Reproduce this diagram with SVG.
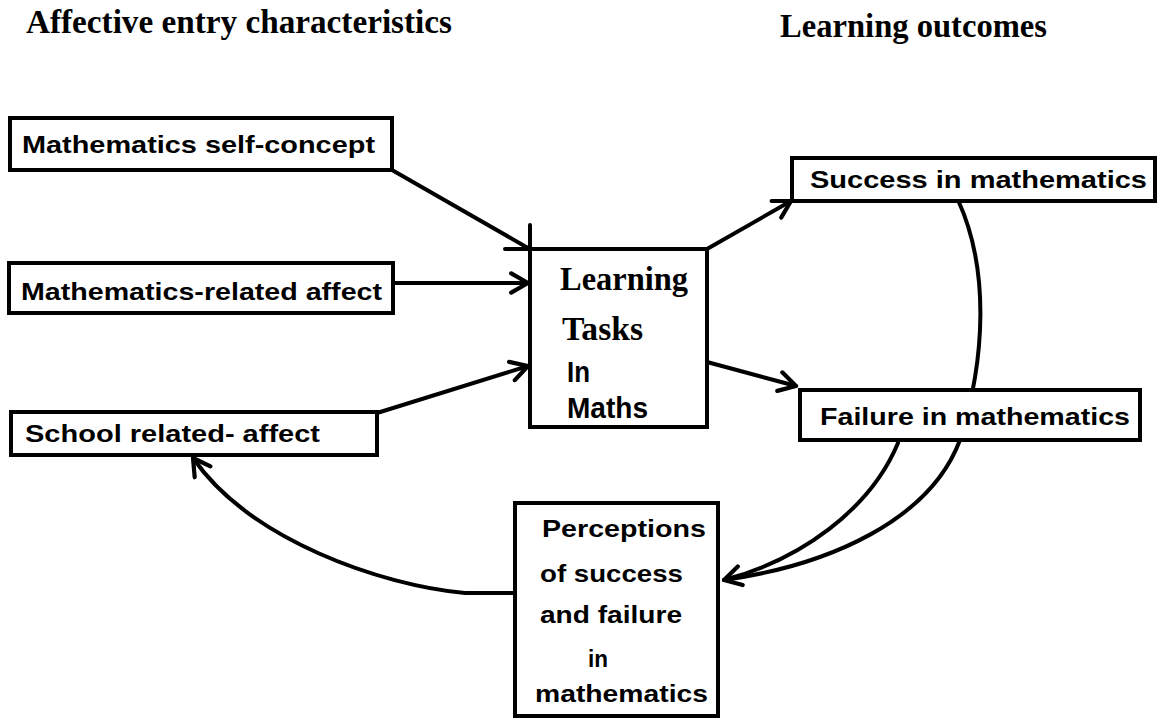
<svg xmlns="http://www.w3.org/2000/svg" width="1161" height="723" viewBox="0 0 1161 723">
<style>
.box{fill:#fff;stroke:#000;stroke-width:4}
.lbl{font-family:"Liberation Sans",Arial,sans-serif;font-weight:bold;font-size:24px;fill:#000}
.big{font-family:"Liberation Sans",Arial,sans-serif;font-weight:bold;font-size:30px;fill:#000}
.ser{font-family:"Liberation Serif","Times New Roman",serif;font-weight:bold;font-size:33px;fill:#000}
.con{fill:none;stroke:#000;stroke-width:4;stroke-linecap:round;stroke-linejoin:round}
</style>
<defs>
<marker id="ah" markerUnits="userSpaceOnUse" markerWidth="24" markerHeight="24" refX="14" refY="8" orient="auto" viewBox="-2 -2 20 20">
<path d="M0,0 L14,8 L0,16" fill="none" stroke="#000" stroke-width="3.5" stroke-linecap="round" stroke-linejoin="round"/>
</marker>
</defs>
<rect width="1161" height="723" fill="#fff"/>
<g id="titles">
<text class="ser" x="26" y="33" textLength="426" lengthAdjust="spacingAndGlyphs">Affective entry characteristics</text>
<text class="ser" x="780" y="37" textLength="267" lengthAdjust="spacingAndGlyphs">Learning outcomes</text>
</g>
<g id="connectors">
<path class="con" d="M392,170 L528,248"/>
<path class="con" d="M505,249 L530,249 L530,225"/>
<path class="con" d="M393,283 L528,283" marker-end="url(#ah)"/>
<path class="con" d="M377,413 L528,366" marker-end="url(#ah)"/>
<path class="con" d="M707,249 L791,201" marker-end="url(#ah)"/>
<path class="con" d="M707,362 L796,386" marker-end="url(#ah)"/>
<path class="con" d="M958,200 C990,270 985,360 960,440 C930,520 830,565 724,580"/>
<path class="con" d="M898,443 C870,510 800,560 724,580" marker-end="url(#ah)"/>
<path class="con" d="M513,593 L465,593 C380,585 250,540 193,458" marker-end="url(#ah)"/>
</g>
<g id="node-msc">
<rect class="box" x="10" y="118" width="382" height="52"/>
<text class="lbl" x="22" y="153" textLength="353" lengthAdjust="spacingAndGlyphs">Mathematics  self-concept</text>
</g>
<g id="node-mra">
<rect class="box" x="9" y="263" width="384" height="50"/>
<text class="lbl" x="21" y="300" textLength="361" lengthAdjust="spacingAndGlyphs">Mathematics-related affect</text>
</g>
<g id="node-sra">
<rect class="box" x="11" y="412" width="366" height="43"/>
<text class="lbl" x="25" y="442" textLength="295" lengthAdjust="spacingAndGlyphs">School  related- affect</text>
</g>
<g id="node-learning">
<rect class="box" x="530" y="249" width="177" height="178"/>
<text class="ser" x="560" y="290" textLength="128" lengthAdjust="spacingAndGlyphs">Learning</text>
<text class="ser" x="562" y="340" textLength="81" lengthAdjust="spacingAndGlyphs">Tasks</text>
<text class="big" x="567" y="382" textLength="23" lengthAdjust="spacingAndGlyphs">In</text>
<text class="big" x="567" y="418" textLength="81" lengthAdjust="spacingAndGlyphs">Maths</text>
</g>
<g id="node-success">
<rect class="box" x="792" y="158" width="363" height="43"/>
<text class="lbl" x="810" y="188" textLength="337" lengthAdjust="spacingAndGlyphs">Success  in mathematics</text>
</g>
<g id="node-failure">
<rect class="box" x="800" y="390" width="340" height="50"/>
<text class="lbl" x="820" y="425" textLength="310" lengthAdjust="spacingAndGlyphs">Failure in mathematics</text>
</g>
<g id="node-perceptions">
<rect class="box" x="515" y="503" width="203" height="213"/>
<text class="lbl" x="542" y="537" textLength="164" lengthAdjust="spacingAndGlyphs">Perceptions</text>
<text class="lbl" x="540" y="582" textLength="143" lengthAdjust="spacingAndGlyphs">of success</text>
<text class="lbl" x="540" y="623" textLength="142" lengthAdjust="spacingAndGlyphs">and failure</text>
<text class="lbl" x="588" y="667" textLength="20" lengthAdjust="spacingAndGlyphs">in</text>
<text class="lbl" x="535" y="702" textLength="173" lengthAdjust="spacingAndGlyphs">mathematics</text>
</g>
</svg>
